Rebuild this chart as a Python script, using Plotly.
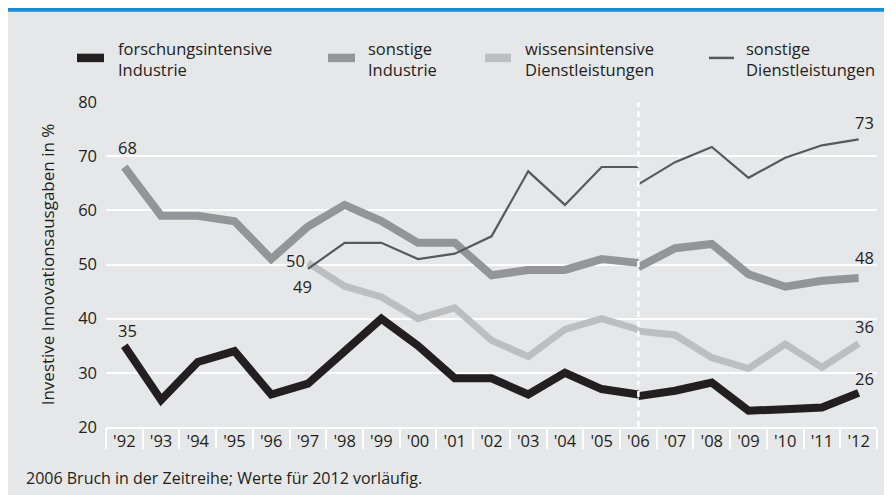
import plotly.graph_objects as go

# ---------------- data ----------------
years_old = [1992, 1993, 1994, 1995, 1996, 1997, 1998, 1999, 2000, 2001, 2002, 2003, 2004, 2005, 2006]
years_new = [2006, 2007, 2008, 2009, 2010, 2011, 2012]
tick_years = list(range(1992, 2013))
tick_labels = ["'92", "'93", "'94", "'95", "'96", "'97", "'98", "'99", "'00", "'01", "'02",
               "'03", "'04", "'05", "'06", "'07", "'08", "'09", "'10", "'11", "'12"]

forsch_old = [35, 25, 32, 34, 26, 28, 34, 40, 35, 29, 29, 26, 30, 27, 26]
forsch_new = [25.7, 26.7, 28.2, 23.0, 23.3, 23.6, 26.3]

sonstInd_old = [68, 59, 59, 58, 51, 57, 61, 58, 54, 54, 48, 49, 49, 51, 50.3]
sonstInd_new = [49.5, 53.0, 53.8, 48.2, 45.9, 47.0, 47.5]

wissen_years_old = [1997, 1998, 1999, 2000, 2001, 2002, 2003, 2004, 2005, 2006]
wissen_old = [50.3, 46, 44, 40, 42, 36, 33, 38, 40, 38]
wissen_new = [37.7, 37.0, 32.8, 30.8, 35.3, 31.0, 35.4]

sonstDL_years_old = [1997, 1998, 1999, 2000, 2001, 2002, 2003, 2004, 2005, 2006]
sonstDL_old = [49.2, 54, 54, 51, 52, 55.2, 67.2, 61, 68, 68]
sonstDL_new = [64.8, 68.9, 71.7, 66.0, 69.7, 72.0, 73.1]

legend_names = ["forschungsintensive<br>Industrie", "sonstige<br>Industrie",
                "wissensintensive<br>Dienstleistungen", "sonstige<br>Dienstleistungen"]
footnote = "2006 Bruch in der Zeitreihe; Werte für 2012 vorläufig."
y_title = "Investive Innovationsausgaben in %"

# ---------------- styles ----------------
C_BLACK = "#231f20"
C_GRAY = "#939598"
C_LIGHT = "#bcbec0"
C_DARK = "#58595b"
BG = "#e6e7e8"
BLUE = "#1a8ed6"
TXT = "#231f20"
FONT = "Open Sans"

# page has an 8px body margin; figure occupies x 8..892, y 8..495 of the page
W, H = 884, 487
L, R, T, B = 98, 15, 93.7, 67.5
PW = W - L - R
PH = H - T - B
PLOT_LEFT, PLOT_BOTTOM = 106, 427.5  # page pixel coordinates


def xp(px):
    return (px - PLOT_LEFT) / PW


def yp(py):
    return (PLOT_BOTTOM - py) / PH


fig = go.Figure()

series = [
    (wissen_years_old, wissen_old, years_new, wissen_new, C_LIGHT, 7),
    (years_old, sonstInd_old, years_new, sonstInd_new, C_GRAY, 8),
    (years_old, forsch_old, years_new, forsch_new, C_BLACK, 8),
    (sonstDL_years_old, sonstDL_old, years_new, sonstDL_new, C_DARK, 2.2),
]
for xo, yo, xn, yn, col, w in series:
    for xs, ys in ((xo, yo), (xn, yn)):
        fig.add_trace(go.Scatter(x=xs, y=ys, mode="lines",
                                 line=dict(color=col, width=w),
                                 showlegend=False, hoverinfo="skip"))

# value labels
labels = [
    (1992, sonstInd_old[0], "68", 3.6, 20),
    (1992, forsch_old[0], "35", 3.6, 15),
    (1997, wissen_old[0], "50", -12.4, 2),
    (1997, sonstDL_old[0], "49", -5, -18),
    (2012, sonstDL_new[-1], "73", 5.5, 17),
    (2012, sonstInd_new[-1], "48", 5.5, 21),
    (2012, wissen_new[-1], "36", 5.5, 17),
    (2012, forsch_new[-1], "26", 5.5, 14),
]
for x, y, t, dx, dy in labels:
    fig.add_annotation(x=x, y=y, text=t, showarrow=False, xshift=dx, yshift=dy,
                       font=dict(family=FONT, size=16.5, color=TXT),
                       xanchor="center", yanchor="middle")

shapes = []
# blue rule at the top
shapes.append(dict(type="rect", xref="paper", yref="paper", x0=xp(8), x1=xp(894),
                   y0=yp(7.5), y1=yp(11.2), fillcolor=BLUE, line=dict(width=0), layer="below"))
# break line 2006
shapes.append(dict(type="line", xref="x", yref="y", x0=2006, x1=2006, y0=20, y1=80,
                   line=dict(color="white", width=2.5, dash="6px,4px"), layer="above"))

# legend
leg = [
    (77, 104, C_BLACK, 8.5, 116),
    (328, 355, C_GRAY, 8.5, 366),
    (485, 511, C_LIGHT, 8.5, 523),
    (709, 734, C_DARK, 2.5, 744),
]
for (x0, x1, col, h, tx), name in zip(leg, legend_names):
    shapes.append(dict(type="rect", xref="paper", yref="paper", x0=xp(x0), x1=xp(x1),
                       y0=yp(57.5 + h / 2), y1=yp(57.5 - h / 2), fillcolor=col,
                       line=dict(width=0)))
    fig.add_annotation(xref="paper", yref="paper", x=xp(tx), y=yp(58.5), text=name,
                       showarrow=False, xanchor="left", yanchor="middle", align="left",
                       font=dict(family=FONT, size=16.5, color=TXT))

fig.add_annotation(xref="paper", yref="paper", x=xp(24), y=yp(478.5), text=footnote,
                   showarrow=False, xanchor="left", yanchor="middle",
                   font=dict(family=FONT, size=16, color=TXT))

fig.update_layout(
    width=W, height=H,
    margin=dict(l=L, r=R, t=T, b=B, pad=0),
    paper_bgcolor=BG, plot_bgcolor=BG,
    shapes=shapes,
    showlegend=False,
    font=dict(family=FONT, size=16, color=TXT),
    xaxis=dict(range=[1991.5, 2012.5], tickmode="array", tickvals=tick_years,
               ticktext=tick_labels, ticks="", showgrid=False, zeroline=False,
               showline=True, linecolor="white", linewidth=1.5,
               tickfont=dict(family=FONT, size=16.5, color=TXT), ticklabelstandoff=-2,
               minor=dict(tickmode="linear", tick0=1991.5, dtick=1, ticks="outside",
                          ticklen=20, tickwidth=1.5, tickcolor="white", showgrid=False),
               fixedrange=True),
    yaxis=dict(range=[20, 80], tickmode="array", tickvals=[20, 30, 40, 50, 60, 70, 80],
               showgrid=True, gridcolor="white", gridwidth=1.5, zeroline=False,
               ticks="", ticklabelstandoff=8,
               tickfont=dict(family=FONT, size=16.5, color=TXT),
               title=dict(text=y_title, standoff=19,
                          font=dict(family=FONT, size=17, color=TXT)),
               fixedrange=True),
)

fig.write_html("out.html")
